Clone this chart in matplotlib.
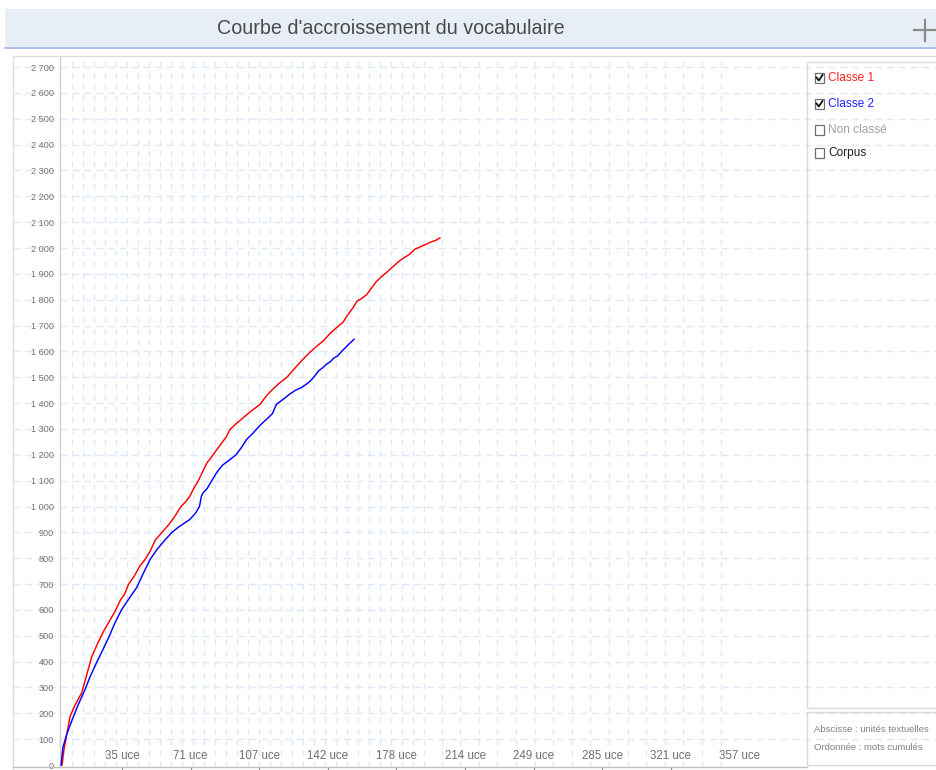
import matplotlib
matplotlib.use("Agg")
import matplotlib.pyplot as plt
import numpy as np
from matplotlib.patches import Rectangle
from matplotlib.lines import Line2D

# ---- data: cumulative vocabulary (words) per textual unit (uce) ----
classe1_uce = [4.5, 5.5, 6.5, 8.6, 11, 14.7, 17, 20, 23, 26, 29, 32, 35, 37, 39,
               42, 45, 47.7, 50.5, 53, 56.5, 60, 63, 66.4, 69, 71, 73, 75.2, 78, 80,
               82.5, 85, 88, 90, 91.9, 95, 99, 103, 107.5, 111, 115, 118, 121.5, 125,
               129.9, 133.5, 137, 140.3, 144, 147, 150.7, 153, 156, 158, 160.6, 163,
               166, 168, 171, 174, 177, 180, 183, 185.5, 188, 191, 194, 197, 199, 201.1]
classe1_words = [0, 60, 100, 186, 228, 279, 340, 420, 470, 516, 555, 593, 640, 660,
                 698, 730, 770, 795, 830, 870, 900, 930, 960, 1000, 1020, 1040, 1070,
                 1097, 1140, 1170, 1194, 1220, 1250, 1270, 1298, 1320, 1345, 1370, 1395,
                 1430, 1460, 1480, 1500, 1530, 1570, 1597, 1620, 1640, 1670, 1690, 1713,
                 1740, 1770, 1795, 1806, 1820, 1850, 1870, 1891, 1910, 1930, 1950, 1965,
                 1977, 1995, 2005, 2015, 2025, 2030, 2039]

classe2_uce = [4.0, 4.5, 5.0, 7, 9.7, 13, 16.4, 19, 22.7, 26, 29.4, 32, 35.5, 39, 43.3,
               47, 50.3, 54, 58, 61.7, 65, 68, 71, 74, 76, 77, 78, 80, 82, 85, 88, 91.9,
               95, 98, 100.6, 104, 107, 109.2, 112, 114, 116, 119.6, 123, 126, 129, 131,
               133.5, 136, 138, 139.8, 142, 144, 146, 147.6, 150, 152, 154, 156.4]
classe2_words = [0, 40, 70, 120, 174, 235, 291, 340, 400, 450, 504, 550, 601, 640, 686,
                 745, 795, 835, 870, 900, 920, 935, 950, 975, 1000, 1040, 1054, 1070,
                 1095, 1132, 1160, 1182, 1200, 1230, 1260, 1285, 1310, 1326, 1345, 1360,
                 1395, 1415, 1435, 1450, 1460, 1470, 1484, 1505, 1525, 1535, 1550, 1560,
                 1575, 1581, 1600, 1615, 1630, 1647]

x_tick_values = [35.7, 71.4, 107.1, 142.8, 178.5, 214.2, 249.9, 285.6, 321.3, 357.0]
x_tick_labels = ["35 uce", "71 uce", "107 uce", "142 uce", "178 uce",
                 "214 uce", "249 uce", "285 uce", "321 uce", "357 uce"]
y_tick_values = list(range(0, 2701, 100))
y_tick_labels = [f"{v:,}".replace(",", " ") for v in y_tick_values]

legend_labels = ["Classe 1", "Classe 2", "Non classé", "Corpus"]
legend_colors = ["#ff2020", "#2020ff", "#a0a0a0", "#202020"]
legend_checked = [True, True, False, False]
axis_notes = ["Abscisse : unités textuelles", "Ordonnée : mots cumulés"]
title = "Courbe d'accroissement du vocabulaire"

# ---- layout helpers (pixel -> figure fraction) ----
W, H = 936, 770


def fx(x):
    return x / W


def fy(y):
    return 1 - y / H


plt.rcParams["font.family"] = ["Liberation Sans", "DejaVu Sans"]

fig = plt.figure(figsize=(W / 100, H / 100), dpi=100)
fig.patch.set_facecolor("white")

YLIM = (-7.7, 2739)
XLIM = (3.43, 392.1)
GRID = "#dfe8f6"

# horizontal dashed grid across the whole panel
bg = fig.add_axes([fx(13), fy(767), (940 - 13) / W, (767 - 57) / H])
bg.set_ylim(*YLIM)
bg.set_xlim(0, 1)
bg.axis("off")
for v in y_tick_values[1:]:
    bg.axhline(v, color=GRID, lw=1.0, ls=(0, (5, 3.5)), zorder=0)

# main plotting area
ax = fig.add_axes([fx(60), fy(767), (807 - 60) / W, (767 - 57) / H])
ax.patch.set_alpha(0)
ax.set_xlim(*XLIM)
ax.set_ylim(*YLIM)

# vertical dashed grid
dense = np.arange(9.7, 198, 5.72)
sparse = np.arange(202.0, 348.5, 9.68)
for gx in np.concatenate([dense, sparse]):
    ax.axvline(gx, color=GRID, lw=1.0, ls=(0, (4, 4)), zorder=0)

ax.plot(classe1_uce, classe1_words, color="#ff0000", lw=1.05, zorder=3)
ax.plot(classe2_uce, classe2_words, color="#0000ff", lw=1.05, zorder=3)

ax.set_yticks(y_tick_values)
ax.set_yticklabels(y_tick_labels)
ax.tick_params(axis="y", length=0, pad=4.3, labelsize=6.6, labelcolor="#707070")

ax.set_xticks(x_tick_values)
ax.set_xticklabels(x_tick_labels)
ax.tick_params(axis="x", direction="out", length=3, width=0.8, color="#909090",
               pad=-15.5, labelsize=8.3, labelcolor="#707070")
ax.xaxis.get_major_ticks()[-1].tick1line.set_visible(False)

for side in ("top", "right"):
    ax.spines[side].set_visible(False)
ax.spines["left"].set_color("#d0d0d0")
ax.spines["bottom"].set_color("#c0c0c0")
ax.spines["bottom"].set_linewidth(1.0)
ax.spines["left"].set_linewidth(1.0)

# panel frame
fig.add_artist(Rectangle((fx(13), fy(771)), (940 - 13) / W, (771 - 56) / H,
                         transform=fig.transFigure, fill=False,
                         edgecolor="#dcdcdc", lw=1.0))
fig.add_artist(Line2D([fx(13), fx(60)], [fy(767), fy(767)],
                      transform=fig.transFigure, color="#c0c0c0", lw=1.0))

# legend panel
fig.add_artist(Rectangle((fx(807), fy(708)), (945 - 807) / W, (708 - 62) / H,
                         transform=fig.transFigure, fill=False,
                         edgecolor="#dadada", lw=1.0))
fig.add_artist(Rectangle((fx(807), fy(765)), (945 - 807) / W, (765 - 712) / H,
                         transform=fig.transFigure, fill=False,
                         edgecolor="#dadada", lw=1.0))

legend_y = [78, 104, 130, 153]
for lab, col, chk, ly in zip(legend_labels, legend_colors, legend_checked, legend_y):
    fig.add_artist(Rectangle((fx(814.5), fy(ly + 5)), 9.5 / W, 10 / H,
                             transform=fig.transFigure, facecolor="white",
                             edgecolor="#707070", lw=0.9))
    if chk:
        fig.add_artist(Line2D([fx(816.5), fx(818.8), fx(822.5)],
                              [fy(ly - 0.5), fy(ly + 2.5), fy(ly - 3)],
                              transform=fig.transFigure, color="#111111", lw=1.3))
    fig.text(fx(828), fy(ly), lab, color=col, fontsize=8.6, ha="left", va="center")

for note, ny in zip(axis_notes, [729, 748]):
    fig.text(fx(814), fy(ny), note, color="#808080", fontsize=6.8,
             ha="left", va="center")

# title bar
fig.add_artist(Rectangle((fx(5), fy(48)), (940 - 5) / W, (48 - 9) / H,
                         transform=fig.transFigure, facecolor="#e7eef6",
                         edgecolor="none"))
fig.add_artist(Line2D([fx(5), fx(940)], [fy(48), fy(48)],
                      transform=fig.transFigure, color="#a9b9ef", lw=1.3))
fig.text(fx(391), fy(28), title, color="#4a4a4a", fontsize=14.2,
         ha="center", va="center")
fig.add_artist(Line2D([fx(914), fx(936)], [fy(30), fy(30)],
                      transform=fig.transFigure, color="#8a8a8a", lw=1.6))
fig.add_artist(Line2D([fx(925), fx(925)], [fy(20), fy(41)],
                      transform=fig.transFigure, color="#8a8a8a", lw=1.6))

fig.savefig("out.png", dpi=100, facecolor="white")
